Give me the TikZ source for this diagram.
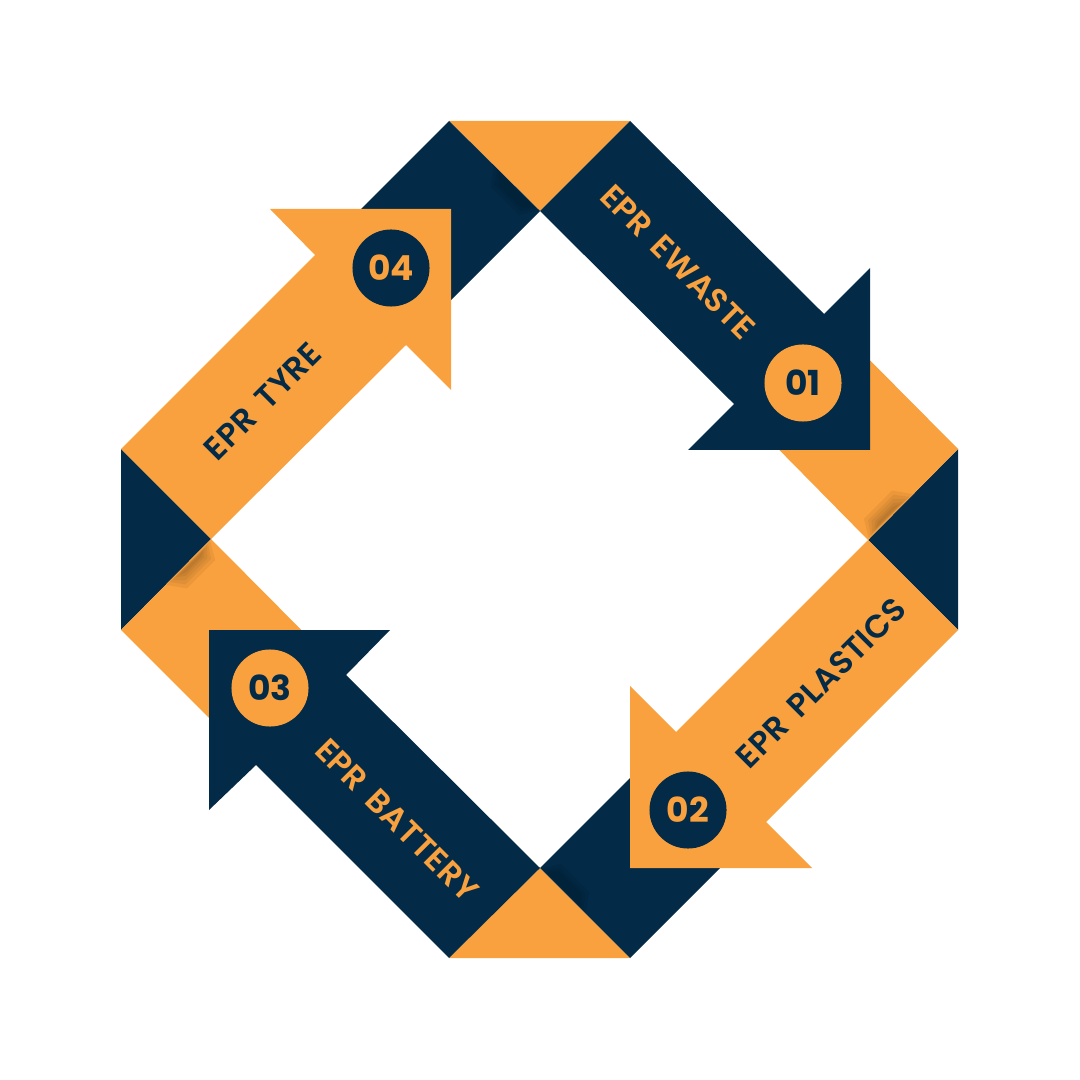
\documentclass[tikz,border=0pt]{standalone}
\usepackage{fontspec}
\setmainfont{Poppins}
\newfontfamily\tagfont{Poppins SemiBold}[WordSpace=1.6, LetterSpace=1.5]
\definecolor{navy}{HTML}{032A46}
\definecolor{amber}{HTML}{F9A13E}

\begin{document}
\begin{tikzpicture}[x=0.01cm, y=-0.01cm,
    PanelDark/.style = {fill=navy},
    PanelLight/.style = {fill=amber},
    FoldShade/.style = {fill=black, fill opacity=0.05},
    NumLight/.style = {circle, fill=amber, text=navy, minimum size=0.77cm, inner sep=0pt, font=\fontsize{9.8}{12}\selectfont\bfseries},
    NumDark/.style = {NumLight, fill=navy, text=amber},
    TagLight/.style = {inner sep=0pt, text=amber, font=\fontsize{9.2}{11}\selectfont\tagfont},
    TagDark/.style = {TagLight, text=navy}]
  \useasboundingbox[fill=white] (0,0) rectangle (1080,1080);

  % corner triangles
  \path[PanelLight] (449,121) -- (630,121) -- (540,211) -- cycle;
  \path[PanelDark] (958,449) -- (958,630) -- (868,540) -- cycle;
  \path[PanelLight] (449,958) -- (630,958) -- (540,868) -- cycle;
  \path[PanelDark] (121,449) -- (121,630) -- (211,539) -- cycle;

  % folded back of each band
  \path[PanelLight] (958,449) -- (868,540) -- (734,404) -- (824,314) -- cycle;
  \path[PanelDark] (540,868) -- (630,958) -- (766,822) -- (676,732) -- cycle;
  \path[PanelLight] (121,630) -- (211,539) -- (346,675) -- (256,765) -- cycle;
  \path[PanelDark] (449,121) -- (540,211) -- (406,345) -- (315,255) -- cycle;

  % shadows along the folds
  \begin{scope}[shift={(868,540)}, rotate=45]
    \fill[FoldShade] (2,-1) -- (64,-1) -- (52,-18) -- (12,-18) -- cycle;
    \fill[FoldShade] (5,-1) -- (60,-1) -- (50,-14) -- (14,-14) -- cycle;
    \fill[FoldShade] (8,-2) -- (56,-2) -- (47,-11) -- (16,-11) -- cycle;
    \fill[FoldShade] (11,-2) -- (52,-2) -- (44,-8) -- (18,-8) -- cycle;
    \fill[FoldShade] (14,-3) -- (48,-3) -- (41,-6) -- (20,-6) -- cycle;
  \end{scope}
  \begin{scope}[shift={(211,539)}, rotate=225]
    \fill[FoldShade] (2,-1) -- (64,-1) -- (52,-18) -- (12,-18) -- cycle;
    \fill[FoldShade] (5,-1) -- (60,-1) -- (50,-14) -- (14,-14) -- cycle;
    \fill[FoldShade] (8,-2) -- (56,-2) -- (47,-11) -- (16,-11) -- cycle;
    \fill[FoldShade] (11,-2) -- (52,-2) -- (44,-8) -- (18,-8) -- cycle;
    \fill[FoldShade] (14,-3) -- (48,-3) -- (41,-6) -- (20,-6) -- cycle;
  \end{scope}
  \begin{scope}[shift={(540,211)}, rotate=135]
    \fill[FoldShade] (2,-1) -- (64,-1) -- (52,-18) -- (12,-18) -- cycle;
    \fill[FoldShade] (5,-1) -- (60,-1) -- (50,-14) -- (14,-14) -- cycle;
    \fill[FoldShade] (8,-2) -- (56,-2) -- (47,-11) -- (16,-11) -- cycle;
  \end{scope}
  \begin{scope}[shift={(540,868)}, rotate=-45]
    \fill[FoldShade] (2,-1) -- (64,-1) -- (52,-18) -- (12,-18) -- cycle;
    \fill[FoldShade] (5,-1) -- (60,-1) -- (50,-14) -- (14,-14) -- cycle;
    \fill[FoldShade] (8,-2) -- (56,-2) -- (47,-11) -- (16,-11) -- cycle;
  \end{scope}

  % the four arrows
  \path[PanelDark] (540,211) -- (734,404) -- (688,450) -- (870,450) -- (870,268) -- (824,314) -- (630,121) -- cycle;
  \path[PanelLight] (868,540) -- (676,732) -- (630,686) -- (630,868) -- (812,868) -- (766,822) -- (958,630) -- cycle;
  \path[PanelDark] (540,868) -- (346,675) -- (390,630) -- (209,630) -- (209,810) -- (256,765) -- (449,958) -- cycle;
  \path[PanelLight] (211,539) -- (406,345) -- (451,390) -- (451,209) -- (270,209) -- (315,255) -- (121,449) -- cycle;

  % step numbers
  \node[NumLight] (n1) at (803,383) {01};
  \node[NumDark] (n2) at (688,810) {02};
  \node[NumLight] (n3) at (270,688) {03};
  \node[NumDark] (n4) at (391,268) {04};

  % labels on the bands
  \node[TagLight, rotate=-45] (ewaste) at (678,262) {EPR EWASTE};
  \node[TagDark, rotate=45] (plastics) at (821,683) {EPR PLASTICS};
  \node[TagLight, rotate=-45] (battery) at (397,820) {EPR BATTERY};
  \node[TagDark, rotate=45] (tyre) at (263,401) {EPR TYRE};
\end{tikzpicture}
\end{document}
